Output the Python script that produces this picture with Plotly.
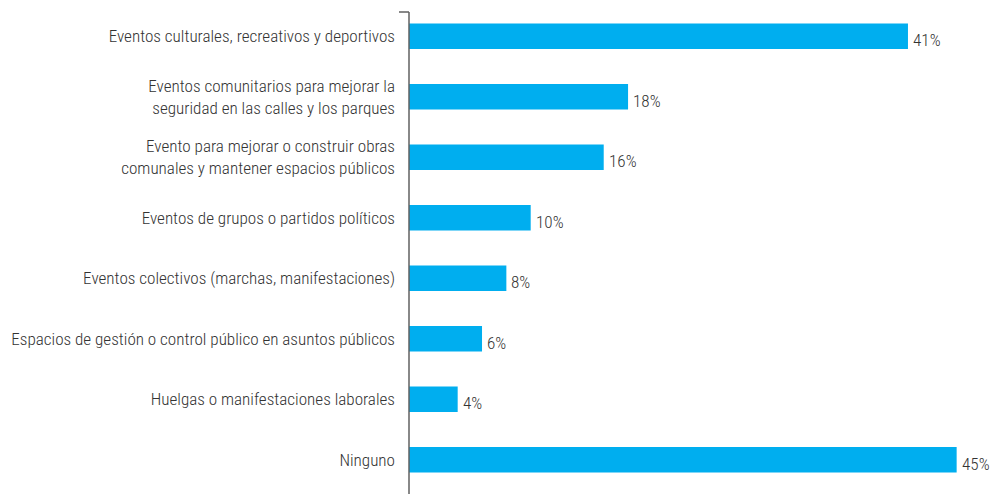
import plotly.graph_objects as go

categories = [
    "Eventos culturales, recreativos y deportivos",
    "Eventos comunitarios para mejorar la<br>seguridad en las calles y los parques",
    "Evento para mejorar o construir obras<br>comunales y mantener espacios públicos",
    "Eventos de grupos o partidos políticos",
    "Eventos colectivos (marchas, manifestaciones)",
    "Espacios de gestión o control público en asuntos públicos",
    "Huelgas o manifestaciones laborales",
    "Ninguno",
]
values = [41, 18, 16, 10, 8, 6, 4, 45]
labels = [f"{v}%" for v in values]

W, H = 997, 494
ml, mr, mt, mb = 409, 0, 6, 4
ph = H - mt - mb
pw = W - ml - mr

font = "Roboto Condensed, Roboto, sans-serif"
txt = "#333333"
fs = 17.1

fig = go.Figure(go.Bar(
    x=values, y=categories, orientation="h",
    marker=dict(color="#00AEEF", line=dict(width=0)),
    width=0.42,
))

# percentage labels, sitting a bit below the bar centre like the original
for v, c, t in zip(values, categories, labels):
    fig.add_annotation(x=v, y=c, text=t, showarrow=False, xanchor="left",
                       xshift=3, yshift=-4,
                       font=dict(size=fs, color=txt, family=font, weight=300))

fig.update_layout(
    width=W, height=H,
    margin=dict(l=ml, r=mr, t=mt, b=mb, autoexpand=False),
    plot_bgcolor="white", paper_bgcolor="white",
    showlegend=False,
    font=dict(family=font, size=fs, color=txt, weight=300),
    xaxis=dict(range=[0, pw / 12.17], visible=False, showgrid=False, zeroline=False,
               automargin=False),
    yaxis=dict(autorange="reversed", showline=False, showgrid=False, zeroline=False,
               automargin=False, ticks="", ticklabelstandoff=13,
               tickfont=dict(size=fs, color=txt, family=font, weight=300)),
    shapes=[
        dict(type="line", xref="paper", yref="paper",
             x0=0, x1=0, y0=(H - mb - 12) / ph, y1=-mb / ph,
             line=dict(color="#606060", width=1.5)),
        dict(type="line", xref="paper", yref="paper",
             x0=-10 / pw, x1=0, y0=(H - mb - 12) / ph, y1=(H - mb - 12) / ph,
             line=dict(color="#606060", width=1.5)),
    ],
)

fig.write_html("out.html", config={"displayModeBar": False},
               post_script="document.body.style.margin='0';")
